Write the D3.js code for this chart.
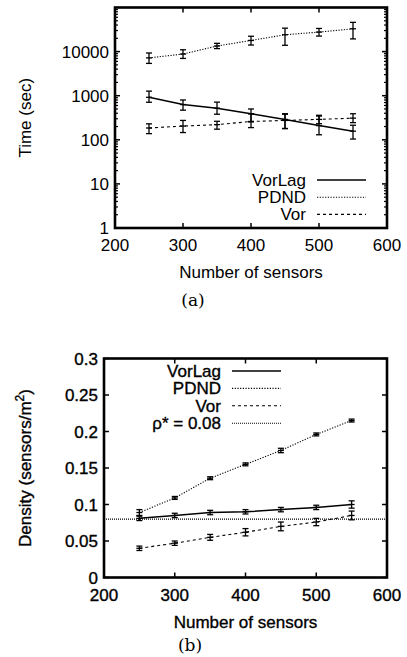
<!DOCTYPE html>
<html><head><meta charset="utf-8">
<script src="https://cdn.jsdelivr.net/npm/d3@7"></script>
<style>
body{margin:0;background:#fff;}
text{font-family:"Liberation Sans",Arial,sans-serif;fill:#000;}
.cap{font-family:"DejaVu Serif","Liberation Serif",serif;}
</style></head>
<body><svg id="c" width="407" height="657"></svg>
<script>
// ---- data ----
const sensors = [250, 300, 350, 400, 450, 500, 550];
const xTicks = [200, 300, 400, 500, 600];

const timeVorLag   = [920, 630, 520, 390, 290, 210, 157];
const timeVorLagLo = [710, 470, 380, 255, 180, 130, 104];
const timeVorLagHi = [1270, 800, 715, 500, 390, 345, 214];
const timePDND     = [7200, 8800, 13400, 17900, 24100, 27700, 32900];
const timePDNDLo   = [5400, 7000, 11700, 14100, 13900, 22500, 19400];
const timePDNDHi   = [9300, 11000, 15400, 22300, 34000, 33500, 46000];
const timeVor      = [185, 205, 221, 260, 275, 290, 310];
const timeVorLo    = [138, 146, 174, 189, 180, 232, 245];
const timeVorHi    = [230, 275, 263, 390, 380, 360, 390];
const timeTicks = [1, 10, 100, 1000, 10000];

const densPDND      = [0.089, 0.109, 0.136, 0.155, 0.174, 0.196, 0.215];
const densPDNDErr   = [0.004, 0.002, 0.002, 0.002, 0.003, 0.002, 0.002];
const densVorLag    = [0.081, 0.085, 0.089, 0.090, 0.093, 0.096, 0.100];
const densVorLagErr = [0.003, 0.003, 0.003, 0.003, 0.003, 0.003, 0.005];
const densVor       = [0.040, 0.047, 0.055, 0.062, 0.070, 0.076, 0.085];
const densVorErr    = [0.003, 0.003, 0.004, 0.005, 0.006, 0.005, 0.006];
const rhoStar = 0.08;
const densTicks = [0, 0.05, 0.1, 0.15, 0.2, 0.25, 0.3];

const seriesNames = ["VorLag", "PDND", "Vor"];
const styles = {
  VorLag: {w: 1.5, dash: null},
  PDND:   {w: 1.1, dash: "1.2,1.5"},
  Vor:    {w: 1.1, dash: "3,3"},
  rho:    {w: 1.1, dash: "1,1"}
};

const svg = d3.select("#c");

function panel(cfg) {
  const g = svg.append("g");
  const x = d3.scaleLinear().domain([200, 600]).range([cfg.left, cfg.right]);
  const y = cfg.y;
  const [top, bottom] = [cfg.top, cfg.bottom];
  const tk = g.append("g").attr("stroke", "#000").attr("stroke-width", 1.5);
  xTicks.forEach(v => {
    tk.append("line").attr("x1", x(v)).attr("x2", x(v)).attr("y1", bottom).attr("y2", bottom - 5);
    tk.append("line").attr("x1", x(v)).attr("x2", x(v)).attr("y1", top).attr("y2", top + 5);
  });
  cfg.yTicks.forEach(v => {
    tk.append("line").attr("x1", cfg.left).attr("x2", cfg.left + 5).attr("y1", y(v)).attr("y2", y(v));
    tk.append("line").attr("x1", cfg.right).attr("x2", cfg.right - 5).attr("y1", y(v)).attr("y2", y(v));
  });
  (cfg.minor || []).forEach(v => {
    tk.append("line").attr("x1", cfg.left).attr("x2", cfg.left + 3).attr("y1", y(v)).attr("y2", y(v)).attr("stroke-width", 1.2);
    tk.append("line").attr("x1", cfg.right).attr("x2", cfg.right - 3).attr("y1", y(v)).attr("y2", y(v)).attr("stroke-width", 1.2);
  });
  const lbl = g.append("g").attr("font-size", 17).attr("stroke", cfg.bold ? "#000" : "none").attr("stroke-width", 0.35);
  xTicks.forEach(v => lbl.append("text").attr("x", x(v)).attr("y", bottom + 23).attr("text-anchor", "middle").text(v));
  cfg.yTicks.forEach(v => lbl.append("text").attr("x", cfg.left - 6).attr("y", y(v) + 6).attr("text-anchor", "end").text(cfg.fmt(v)));
  lbl.append("text").attr("x", (cfg.left + cfg.right) / 2).attr("y", bottom + 50).attr("text-anchor", "middle").text("Number of sensors");
  const yt = lbl.append("text").attr("transform", `translate(31,${(top + bottom) / 2})rotate(-90)`).attr("text-anchor", "middle");
  cfg.yTitle(yt);
  if (cfg.ref != null) {
    g.append("line").attr("x1", cfg.left).attr("x2", cfg.right).attr("y1", y(cfg.ref)).attr("y2", y(cfg.ref))
      .attr("stroke", "#000").attr("stroke-width", styles.rho.w).attr("stroke-dasharray", styles.rho.dash);
  }
  cfg.series.forEach(s => {
    const st = styles[s.name];
    const pts = sensors.map((v, i) => ({x: v, y: s.v[i], lo: s.lo[i], hi: s.hi[i]}));
    g.append("path").datum(pts).attr("fill", "none").attr("stroke", "#000")
      .attr("stroke-width", st.w).attr("stroke-dasharray", st.dash)
      .attr("d", d3.line().x(d => x(d.x)).y(d => y(d.y)));
    const eb = g.append("g").attr("stroke", "#000").attr("stroke-width", 1.3);
    pts.forEach(d => {
      const cx = x(d.x);
      eb.append("line").attr("x1", cx).attr("x2", cx).attr("y1", y(d.lo)).attr("y2", y(d.hi));
      eb.append("line").attr("x1", cx - 3).attr("x2", cx + 3).attr("y1", y(d.lo)).attr("y2", y(d.lo));
      eb.append("line").attr("x1", cx - 3).attr("x2", cx + 3).attr("y1", y(d.hi)).attr("y2", y(d.hi));
      eb.append("line").attr("x1", cx - 3).attr("x2", cx + 3).attr("y1", y(d.y)).attr("y2", y(d.y));
    });
  });
  g.append("rect").attr("x", cfg.left).attr("y", top).attr("width", cfg.right - cfg.left).attr("height", bottom - top)
    .attr("fill", "none").attr("stroke", "#000").attr("stroke-width", 2.6);
  const lg = g.append("g").attr("font-size", 17).attr("stroke", cfg.bold ? "#000" : "none").attr("stroke-width", 0.35);
  cfg.legend.forEach((it, i) => {
    const yy = cfg.legY + i * cfg.legStep;
    const t = lg.append("text").attr("x", cfg.legX).attr("y", yy + 6).attr("text-anchor", "end");
    if (it.key === "rho") { t.text("ρ* = " + rhoStar.toFixed(2)); } else { t.text(it.key); }
    const st = styles[it.key];
    g.append("line").attr("x1", cfg.legX + 11).attr("x2", cfg.legX + 60).attr("y1", yy).attr("y2", yy)
      .attr("stroke", "#000").attr("stroke-width", st.w).attr("stroke-dasharray", st.dash);
  });
  svg.append("text").attr("class", "cap").attr("x", cfg.capX).attr("y", cfg.capY).attr("text-anchor", "middle")
    .attr("font-size", 17).text(cfg.cap);
}

const minorTime = [];
[1, 10, 100, 1000, 10000].forEach(d => [2, 3, 4, 5, 6, 7, 8, 9].forEach(m => minorTime.push(d * m)));

panel({
  left: 115, right: 387, top: 7.5, bottom: 228,
  y: d3.scaleLog().domain([1, 100000]).range([228, 7.5]),
  yTicks: timeTicks, minor: minorTime, fmt: v => String(v),
  yTitle: t => t.text("Time (sec)"),
  series: [
    {name: "VorLag", v: timeVorLag, lo: timeVorLagLo, hi: timeVorLagHi},
    {name: "PDND", v: timePDND, lo: timePDNDLo, hi: timePDNDHi},
    {name: "Vor", v: timeVor, lo: timeVorLo, hi: timeVorHi}
  ],
  legend: seriesNames.map(k => ({key: k})),
  legX: 306, legY: 180, legStep: 17.2,
  cap: "(a)", capX: 193, capY: 306
});

panel({
  left: 104, right: 387, top: 358.5, bottom: 577.5,
  y: d3.scaleLinear().domain([0, 0.3]).range([577.5, 358.5]),
  yTicks: densTicks, fmt: v => String(v), bold: true,
  yTitle: t => { t.append("tspan").text("Density (sensors/m"); t.append("tspan").attr("baseline-shift", "super").attr("font-size", 12).text("2"); t.append("tspan").text(")"); },
  ref: rhoStar,
  series: [
    {name: "VorLag", v: densVorLag, lo: densVorLag.map((v, i) => v - densVorLagErr[i]), hi: densVorLag.map((v, i) => v + densVorLagErr[i])},
    {name: "PDND", v: densPDND, lo: densPDND.map((v, i) => v - densPDNDErr[i]), hi: densPDND.map((v, i) => v + densPDNDErr[i])},
    {name: "Vor", v: densVor, lo: densVor.map((v, i) => v - densVorErr[i]), hi: densVor.map((v, i) => v + densVorErr[i])}
  ],
  legend: seriesNames.map(k => ({key: k})).concat([{key: "rho"}]),
  legX: 221, legY: 371, legStep: 17.4,
  cap: "(b)", capX: 190, capY: 651
});
</script></body></html>
